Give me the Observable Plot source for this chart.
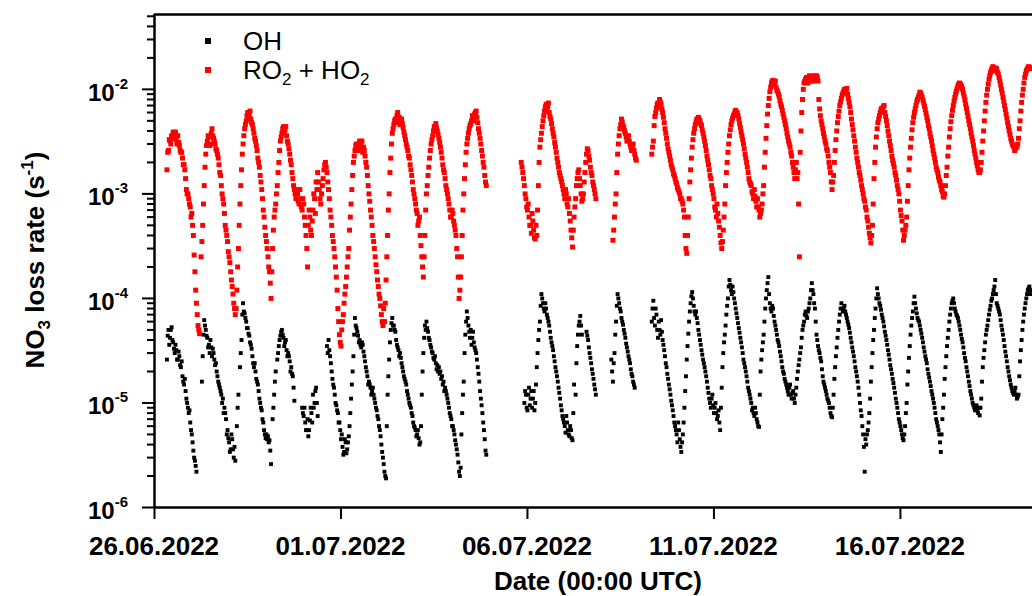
<!DOCTYPE html>
<html><head><meta charset="utf-8">
<script src="https://cdn.jsdelivr.net/npm/d3@7"></script>
<script src="https://cdn.jsdelivr.net/npm/@observablehq/plot@0.6"></script>
<style>
html,body{margin:0;padding:0;background:#fff;}
#chart{width:1032px;height:596px;overflow:hidden;}
</style></head><body><div id="chart"></div>
<script>
// ---------- data ----------
const startTime = "2022-06-26T00:00:00Z";   // first row = 26.06.2022, 00:00 UTC
const endTime = "2022-07-19T13:00:00Z";     // right edge of the visible window
const xTickDates = ["2022-06-26", "2022-07-01", "2022-07-06", "2022-07-11", "2022-07-16"];
const yMajorTicks = [1e-6, 1e-5, 1e-4, 1e-3, 1e-2];
const yDomain = [1e-6, 0.052];
const seriesNames = ["OH", "RO2 + HO2"];
const seriesColors = ["#000000", "#ff0000"];

// NO3 loss rate by OH (s-1): one row per day, values at hh:00 (h 0..23), null = no data
const ohRate = [
[null,null,null,null,null,null,null,null,2.6e-5,5.0e-5,4.2e-5,5.3e-5,3.8e-5,3.0e-5,3.2e-5,2.6e-5,2.8e-5,2.2e-5,1.8e-5,1.5e-5,1.3e-5,1.0e-5,8e-6,6.5e-6],
[5e-6,3.5e-6,2.8e-6,2.2e-6,null,null,null,2.8e-5,6.2e-5,5.0e-5,4.2e-5,3.6e-5,4.0e-5,2.8e-5,3.0e-5,2.3e-5,2.0e-5,1.6e-5,1.4e-5,1.2e-5,1.1e-5,9e-6,7e-6,5.5e-6],
[4.2e-6,3.6e-6,4.5e-6,3.0e-6,2.8e-6,6e-6,1.2e-5,2.2e-5,4e-5,9e-5,7.2e-5,6.0e-5,5.2e-5,4.4e-5,3.6e-5,2.8e-5,2.2e-5,2.0e-5,1.6e-5,1.3e-5,1.0e-5,8.5e-6,6.5e-6,5e-6],
[5e-6,4.8e-6,4.4e-6,2.6e-6,7e-6,1.2e-5,2e-5,2.6e-5,3.5e-5,4.4e-5,5.0e-5,4.2e-5,3.8e-5,3.2e-5,3.0e-5,2.5e-5,2.2e-5,1.8e-5,1.05e-5,null,null,null,null,9e-6],
[7.5e-6,6.5e-6,5.5e-6,4.8e-6,6.8e-6,8e-6,1.2e-5,1.0e-5,1.4e-5,7.5e-6,null,null,null,null,null,3.5e-5,4.0e-5,2.8e-5,2.0e-5,1.5e-5,1.2e-5,9.5e-6,8e-6,6.5e-6],
[4.5e-6,3.8e-6,3.4e-6,4.2e-6,3.6e-6,4.8e-6,8e-6,1.5e-5,2.8e-5,6.5e-5,5.2e-5,4.4e-5,4.0e-5,3.4e-5,3.6e-5,2.8e-5,2.2e-5,1.8e-5,1.6e-5,1.4e-5,1.3e-5,1.2e-5,1.0e-5,8.5e-6],
[7e-6,5.5e-6,4e-6,3.0e-6,2.2e-6,1.9e-6,1.2e-5,2.6e-5,5e-5,6.5e-5,5.5e-5,4.8e-5,3.6e-5,3.2e-5,3.0e-5,2.4e-5,2.0e-5,1.7e-5,1.5e-5,1.2e-5,1.0e-5,9e-6,7.5e-6,6e-6],
[5.5e-6,5.0e-6,4.6e-6,4.2e-6,1.2e-5,3.0e-5,5.5e-5,6.0e-5,4.8e-5,4.0e-5,3.4e-5,3.0e-5,2.6e-5,2.4e-5,2.3e-5,2.2e-5,2.0e-5,1.8e-5,1.6e-5,1.4e-5,1.2e-5,1.0e-5,8e-6,7e-6],
[6e-6,5e-6,4e-6,3.2e-6,2.2e-6,2.4e-6,8e-6,1.6e-5,4.5e-5,7.5e-5,5.5e-5,4.2e-5,3.6e-5,4.8e-5,3.4e-5,3.0e-5,2.2e-5,1.6e-5,1.1e-5,8e-6,5.5e-6,3.5e-6,null,null],
[null,null,null,null,null,null,null,null,null,null,null,null,null,null,null,null,null,null,null,null,null,null,1.0e-5,1.2e-5],
[8.5e-6,1.4e-5,1.1e-5,9e-6,1.3e-5,1.0e-5,2.2e-5,4e-5,6e-5,1.1e-4,9e-5,7.5e-5,8e-5,6.5e-5,5.5e-5,4.2e-5,3.5e-5,2.8e-5,2.2e-5,1.8e-5,1.4e-5,1.1e-5,8.5e-6,7e-6],
[6e-6,7.5e-6,5.5e-6,4.8e-6,5.5e-6,4.4e-6,1.5e-5,1.2e-5,3.5e-5,5.5e-5,6.8e-5,4.5e-5,null,null,4.8e-5,4.0e-5,3.0e-5,2.4e-5,1.9e-5,1.5e-5,1.2e-5,null,null,null],
[null,null,null,null,null,null,2.6e-5,1.6e-5,3e-5,6e-5,1.1e-4,9e-5,7.5e-5,6e-5,5e-5,4.2e-5,3.4e-5,2.8e-5,2.4e-5,1.9e-5,1.6e-5,1.4e-5,null,null],
[null,null,null,null,null,null,null,null,6e-5,9.5e-5,5.5e-5,7e-5,4.2e-5,5e-5,6.2e-5,4e-5,3.2e-5,2.4e-5,1.9e-5,1.5e-5,1.2e-5,9.5e-6,7.5e-6,6e-6],
[5e-6,6.5e-6,4.5e-6,3.4e-6,5e-6,9e-6,1.8e-5,3.5e-5,6e-5,9e-5,1.15e-4,8.5e-5,7e-5,6.5e-5,5e-5,4e-5,3.2e-5,2.6e-5,2.2e-5,1.8e-5,1.4e-5,1.1e-5,9e-6,1.2e-5],
[8e-6,1.0e-5,7e-6,8.5e-6,5.5e-6,1.4e-5,3e-5,4.5e-5,7e-5,1.0e-4,1.5e-4,1.2e-4,1.3e-4,1.0e-4,8e-5,6.5e-5,5.2e-5,4.2e-5,3.4e-5,2.6e-5,2.2e-5,1.8e-5,1.4e-5,1.2e-5],
[1.0e-5,9e-6,7.5e-6,8e-6,6.5e-6,5.9e-6,2e-5,3.2e-5,4.5e-5,8e-5,1.2e-4,1.6e-4,9e-5,7.5e-5,8e-5,6e-5,5e-5,4e-5,3.5e-5,2.8e-5,2.2e-5,1.9e-5,1.6e-5,1.4e-5],
[1.2e-5,1.5e-5,1.1e-5,1.3e-5,1.0e-5,1.4e-5,2e-5,2.6e-5,3.4e-5,5e-5,6e-5,7.5e-5,6.5e-5,8e-5,1.0e-4,1.4e-4,1.1e-4,8e-5,4.5e-5,3.5e-5,3.0e-5,2.5e-5,1.8e-5,1.5e-5],
[1.3e-5,1.1e-5,1.0e-5,8e-6,7.3e-6,1.2e-5,2.2e-5,3.4e-5,5e-5,7e-5,9e-5,7.5e-5,8.5e-5,7e-5,6e-5,5.2e-5,4.2e-5,3.4e-5,2.8e-5,2.2e-5,1.8e-5,1.4e-5,1.0e-5,7.5e-6],
[5e-6,2.2e-6,4e-6,5.5e-6,8e-6,1.6e-5,3e-5,5e-5,8e-5,1.25e-4,1.0e-4,8.5e-5,7e-5,6e-5,4.8e-5,4e-5,3.2e-5,2.6e-5,2.1e-5,1.7e-5,1.4e-5,1.1e-5,9e-6,7e-6],
[6e-6,5e-6,4.4e-6,6e-6,1.0e-5,2e-5,3.5e-5,5.5e-5,7.5e-5,1.04e-4,8e-5,6.5e-5,6e-5,5e-5,4.2e-5,3.4e-5,2.8e-5,2.4e-5,1.9e-5,1.6e-5,1.3e-5,1.1e-5,9e-6,7e-6],
[6e-6,5e-6,3.4e-6,7e-6,1.2e-5,2.2e-5,3.5e-5,5e-5,7e-5,9e-5,1.0e-4,8e-5,7e-5,6.5e-5,5.5e-5,4.5e-5,3.8e-5,3e-5,2.5e-5,2e-5,1.6e-5,1.3e-5,1.1e-5,9.5e-6],
[8.5e-6,9.5e-6,8e-6,7.6e-6,1.1e-5,2.2e-5,3.2e-5,4.5e-5,5.5e-5,7e-5,8.5e-5,1.0e-4,1.2e-4,1.5e-4,9e-5,8e-5,7e-5,5.5e-5,4.5e-5,3.5e-5,2.8e-5,2.2e-5,1.8e-5,1.5e-5],
[1.3e-5,1.2e-5,1.4e-5,1.1e-5,1.2e-5,2.5e-5,4e-5,6e-5,8e-5,1.0e-4,1.2e-4,1.3e-4,1.1e-4]
];
// NO3 loss rate by OH (s-1): values at hh:30
const ohRateHalf = [
[null,null,null,null,null,null,null,null,4.4e-5,3.6e-5,5.0e-5,4.0e-5,3.3e-5,3.6e-5,2.6e-5,3.1e-5,2.3e-5,2.5e-5,1.6e-5,1.7e-5,1.1e-5,9e-6,8.5e-6,5.5e-6],
[4.2e-6,3e-6,2.5e-6,null,null,null,1.6e-5,4.5e-5,5.5e-5,4.4e-5,3.4e-5,3.0e-5,3.4e-5,3.3e-5,2.6e-5,2.4e-5,1.8e-5,1.5e-5,1.3e-5,1.0e-5,8e-6,8e-6,5e-6,4.6e-6],
[3.4e-6,5e-6,3.6e-6,3.8e-6,null,9e-6,null,3e-5,7e-5,7.5e-5,6.5e-5,5.2e-5,4.6e-5,3.8e-5,3.3e-5,2.4e-5,2.4e-5,1.7e-5,1.5e-5,1.1e-5,9e-6,7e-6,5.5e-6,4.6e-6],
[4.5e-6,4.2e-6,3.5e-6,null,9e-6,1.6e-5,null,3e-5,4e-5,4.8e-5,4.5e-5,3.5e-5,4.0e-5,2.8e-5,2.8e-5,2.0e-5,1.9e-5,1.4e-5,null,null,null,null,null,8e-6],
[9e-6,5.5e-6,7e-6,5.5e-6,9e-6,6.5e-6,9e-6,1.3e-5,1.0e-5,null,null,null,null,null,null,3.0e-5,3.2e-5,2.4e-5,1.7e-5,1.4e-5,1.0e-5,8.5e-6,6.5e-6,5.5e-6],
[5e-6,3.2e-6,4.5e-6,3.3e-6,4.2e-6,6e-6,1.1e-5,2.0e-5,4.5e-5,5.5e-5,4.8e-5,3.8e-5,3.6e-5,3.8e-5,3.1e-5,2.5e-5,2.0e-5,1.5e-5,1.5e-5,1.2e-5,1.4e-5,1.1e-5,9e-6,7.5e-6],
[6e-6,4.8e-6,3.4e-6,2.6e-6,2.0e-6,6e-6,1.8e-5,3.8e-5,5.8e-5,5.5e-5,5e-5,4.0e-5,3.4e-5,2.8e-5,2.7e-5,2.2e-5,1.8e-5,1.6e-5,1.3e-5,1.1e-5,9.5e-6,8e-6,6.5e-6,5.8e-6],
[4.8e-6,5.5e-6,4.0e-6,6e-6,2e-5,4.2e-5,5e-5,5.2e-5,4.2e-5,3.6e-5,3.1e-5,2.7e-5,2.8e-5,2.1e-5,2.0e-5,1.9e-5,1.7e-5,1.5e-5,1.3e-5,1.3e-5,1.1e-5,9e-6,7.5e-6,6e-6],
[5.5e-6,4.4e-6,3.6e-6,2.7e-6,2.0e-6,5e-6,1.2e-5,3e-5,6e-5,6.5e-5,4.8e-5,5e-5,4.2e-5,3.8e-5,3.2e-5,2.6e-5,1.9e-5,1.3e-5,9.5e-6,6.5e-6,4.5e-6,3.2e-6,null,null],
[null,null,null,null,null,null,null,null,null,null,null,null,null,null,null,null,null,null,null,null,null,null,1.3e-5,9e-6],
[1.2e-5,9.5e-6,1.3e-5,1.1e-5,8.5e-6,1.5e-5,3e-5,5e-5,8.5e-5,1.0e-4,8e-5,9e-5,7e-5,6e-5,4.8e-5,3.8e-5,3.2e-5,2.5e-5,2.0e-5,1.6e-5,1.25e-5,9.5e-6,7.5e-6,6.5e-6],
[5.2e-6,6.5e-6,5e-6,6e-6,4.6e-6,8e-6,null,2.4e-5,4.5e-5,6e-5,5.5e-5,null,null,null,4.4e-5,3.4e-5,2.7e-5,2.1e-5,1.7e-5,1.35e-5,null,null,null,null],
[null,null,null,null,null,null,2.0e-5,2.4e-5,4.5e-5,8.5e-5,1.0e-4,8e-5,6.5e-5,5.6e-5,4.6e-5,3.7e-5,3.1e-5,2.6e-5,2.1e-5,1.8e-5,1.5e-5,null,null,null],
[null,null,null,null,null,null,null,null,8e-5,6.5e-5,8e-5,5e-5,6e-5,4.5e-5,4.8e-5,3.6e-5,2.8e-5,2.2e-5,1.7e-5,1.35e-5,1.05e-5,8.5e-6,6.5e-6,5.5e-6],
[4.2e-6,5.5e-6,3.8e-6,4.2e-6,6.5e-6,1.3e-5,2.6e-5,4.6e-5,7.5e-5,1.05e-4,1.0e-4,7.5e-5,7.5e-5,5.8e-5,4.5e-5,3.6e-5,2.9e-5,2.4e-5,2.0e-5,1.6e-5,1.25e-5,1.0e-5,1.1e-5,9.5e-6],
[9e-6,8e-6,7.5e-6,6.5e-6,9e-6,2.2e-5,3.8e-5,5.5e-5,8.5e-5,1.3e-4,1.35e-4,1.1e-4,1.15e-4,9e-5,7.2e-5,5.8e-5,4.7e-5,3.8e-5,3.0e-5,2.4e-5,2.0e-5,1.6e-5,1.3e-5,1.1e-5],
[8.5e-6,8e-6,9e-6,7e-6,6e-6,1.2e-5,2.6e-5,3.8e-5,6e-5,1.0e-4,1.4e-4,1.1e-4,8e-5,8.5e-5,6.8e-5,5.5e-5,4.5e-5,3.8e-5,3.1e-5,2.5e-5,2.0e-5,1.7e-5,1.5e-5,1.3e-5],
[1.4e-5,1.2e-5,1.25e-5,1.1e-5,1.2e-5,1.7e-5,2.3e-5,3.0e-5,4.2e-5,5.5e-5,7e-5,6.8e-5,7.5e-5,9e-5,1.2e-4,1.2e-4,9e-5,6e-5,4e-5,3.2e-5,2.7e-5,2.1e-5,1.6e-5,1.4e-5],
[1.2e-5,1.05e-5,9e-6,7.5e-6,9e-6,1.7e-5,2.8e-5,4.2e-5,6e-5,8e-5,8e-5,8e-5,7.5e-5,6.5e-5,5.6e-5,4.7e-5,3.8e-5,3.1e-5,2.5e-5,2.0e-5,1.6e-5,1.2e-5,8.5e-6,6e-6],
[3.8e-6,4.5e-6,5e-6,6.5e-6,1.1e-5,2.2e-5,4e-5,6.5e-5,1.0e-4,1.1e-4,9e-5,7.8e-5,6.5e-5,5.4e-5,4.4e-5,3.6e-5,2.9e-5,2.3e-5,1.9e-5,1.55e-5,1.25e-5,1.0e-5,8e-6,6.5e-6],
[5.5e-6,4.6e-6,5e-6,8e-6,1.5e-5,2.7e-5,4.5e-5,6.5e-5,9e-5,9e-5,7.2e-5,6.2e-5,5.5e-5,4.6e-5,3.8e-5,3.1e-5,2.6e-5,2.1e-5,1.75e-5,1.45e-5,1.2e-5,1.0e-5,8e-6,6.5e-6],
[5.5e-6,4.2e-6,5e-6,9e-6,1.7e-5,2.8e-5,4.2e-5,6e-5,8e-5,9.5e-5,9e-5,7.5e-5,6.8e-5,6e-5,5e-5,4.1e-5,3.4e-5,2.7e-5,2.2e-5,1.8e-5,1.45e-5,1.2e-5,1.0e-5,9e-6],
[9e-6,8.5e-6,9e-6,9e-6,1.6e-5,2.7e-5,3.8e-5,5e-5,6.2e-5,7.8e-5,9.5e-5,1.1e-4,1.3e-4,1.1e-4,8.5e-5,7.5e-5,6.2e-5,5e-5,4e-5,3.1e-5,2.5e-5,2.0e-5,1.65e-5,1.4e-5],
[1.25e-5,1.3e-5,1.2e-5,1.15e-5,1.8e-5,3.2e-5,5e-5,7e-5,9e-5,1.1e-4,1.25e-4,1.2e-4]
];

// NO3 loss rate by RO2 + HO2 (s-1): one row per day, values at hh:00, null = no data
const ro2ho2Rate = [
[null,null,null,null,null,null,null,null,1.7e-3,2.6e-3,3.2e-3,3.6e-3,3.9e-3,3.7e-3,3.3e-3,3.6e-3,2.9e-3,2.5e-3,2.2e-3,1.9e-3,1.4e-3,1.0e-3,9e-4,7.5e-4],
[6.5e-4,4e-4,1.8e-4,9e-5,5.5e-5,4.6e-5,2.5e-4,5e-4,1.2e-3,2.4e-3,3.2e-3,3.5e-3,3.0e-3,4.2e-3,3.4e-3,3.0e-3,2.6e-3,2.2e-3,1.6e-3,1.2e-3,9e-4,6.5e-4,4.5e-4,3.5e-4],
[2.5e-4,1.8e-4,1.3e-4,9e-5,7e-5,1.2e-4,3e-4,8e-4,1.7e-3,3e-3,4.2e-3,5e-3,6e-3,5.6e-3,5.2e-3,4.6e-3,3.8e-3,3.2e-3,2.6e-3,2e-3,1.5e-3,1.1e-3,7e-4,4.8e-4],
[3.5e-4,2.5e-4,1.8e-4,1.0e-4,3e-4,6e-4,8e-4,1.2e-3,2e-3,3.2e-3,3.8e-3,4.4e-3,4.1e-3,3.6e-3,3.0e-3,2.4e-3,1.9e-3,1.4e-3,1.1e-3,9e-4,1.0e-3,8e-4,9e-4,7e-4],
[8e-4,5e-4,3e-4,5e-4,6e-4,4e-4,7e-4,9e-4,1.3e-3,1.6e-3,1.1e-3,8e-4,1.2e-3,1.7e-3,2.0e-3,1.6e-3,1.1e-3,7e-4,5e-4,3.5e-4,2.5e-4,1.6e-4,8e-5,4.5e-5],
[3.5e-5,6e-5,9e-5,1.3e-4,2e-4,3e-4,6e-4,1.1e-3,2e-3,2.6e-3,3.0e-3,2.6e-3,3.2e-3,2.9e-3,2.5e-3,2.6e-3,2.0e-3,1.5e-3,1.0e-3,7e-4,5e-4,3.5e-4,2.5e-4,1.8e-4],
[1.3e-4,1e-4,7e-5,5.5e-5,6e-5,1.5e-4,4e-4,1.0e-3,2.2e-3,3.8e-3,4.6e-3,5.2e-3,5.6e-3,5e-3,4.6e-3,5.2e-3,4.3e-3,3.6e-3,3.0e-3,2.6e-3,2.2e-3,1.7e-3,1.3e-3,1.0e-3],
[8e-4,6.5e-4,5.5e-4,4e-4,2.5e-4,1.6e-4,4e-4,1.0e-3,1.5e-3,2.2e-3,3.0e-3,3.6e-3,4.4e-3,4.7e-3,4e-3,3.4e-3,2.8e-3,2.2e-3,1.7e-3,1.4e-3,1.1e-3,9e-4,7e-4,6e-4],
[6.5e-4,5e-4,4e-4,2.5e-4,1.0e-4,1.6e-4,4e-4,1.0e-3,1.9e-3,3.0e-3,3.8e-3,4.5e-3,5.0e-3,5.4e-3,5.8e-3,6.2e-3,4.8e-3,3.8e-3,3.0e-3,2.3e-3,1.8e-3,1.3e-3,null,null],
[null,null,null,null,null,null,null,null,null,null,null,null,null,null,null,null,null,null,null,null,2.0e-3,1.6e-3,1.2e-3,9e-4],
[7e-4,6e-4,5e-4,6.5e-4,4.5e-4,3.7e-4,4e-4,1.2e-3,2.8e-3,3.8e-3,5e-3,6.2e-3,7.2e-3,6.8e-3,6.0e-3,5.2e-3,4.2e-3,3.5e-3,2.8e-3,2.2e-3,1.8e-3,1.5e-3,1.3e-3,1.1e-3],
[9e-4,1.0e-3,7.5e-4,6.5e-4,4.5e-4,3.1e-4,6e-4,9e-4,1.4e-3,1.7e-3,1.2e-3,8.5e-4,1.0e-3,1.6e-3,2.4e-3,2.6e-3,2.1e-3,1.6e-3,1.3e-3,1.1e-3,9e-4,null,null,null],
[null,null,null,null,null,null,null,3.6e-4,6e-4,1.0e-3,2.4e-3,3.6e-3,4.6e-3,4.9e-3,4.3e-3,3.8e-3,3.2e-3,3.6e-3,3.0e-3,2.6e-3,3.0e-3,2.4e-3,2.1e-3,null],
[null,null,null,null,null,null,null,null,2.4e-3,3.2e-3,5.5e-3,6.6e-3,7.4e-3,8.0e-3,7.2e-3,6.0e-3,4.8e-3,3.8e-3,3.0e-3,2.5e-3,2.1e-3,1.8e-3,1.55e-3,1.4e-3],
[1.25e-3,1.1e-3,1.0e-3,9e-4,8e-4,6e-4,3e-4,4e-4,9e-4,1.7e-3,2.8e-3,3.8e-3,4.6e-3,5.2e-3,5.4e-3,5.0e-3,4.5e-3,3.8e-3,3.2e-3,2.6e-3,2.1e-3,1.7e-3,1.4e-3,1.1e-3],
[9e-4,7e-4,8e-4,5.5e-4,4e-4,3e-4,4.5e-4,8e-4,1.6e-3,2.5e-3,3.6e-3,4.6e-3,5.3e-3,5.8e-3,6.3e-3,6.0e-3,5.2e-3,4.3e-3,3.6e-3,3.0e-3,2.4e-3,2.0e-3,1.6e-3,1.3e-3],
[1.2e-3,1.0e-3,1.1e-3,8.5e-4,9e-4,7e-4,6.5e-4,8e-4,1.2e-3,2.5e-3,4.5e-3,7e-3,9.5e-3,1.15e-2,1.22e-2,1.1e-2,1.05e-2,9.5e-3,8.5e-3,7.2e-3,6.3e-3,5.4e-3,4.6e-3,3.8e-3],
[3.2e-3,2.8e-3,2.3e-3,1.8e-3,1.4e-3,2.0e-3,1.6e-3,2.5e-4,4e-3,8e-3,1.15e-2,1.25e-2,1.2e-2,1.3e-2,1.25e-2,1.3e-2,1.2e-2,1.3e-2,1.35e-2,1.2e-2,6.5e-3,5.0e-3,4.2e-3,3.5e-3],
[3.0e-3,2.6e-3,2.0e-3,1.6e-3,1.1e-3,1.5e-3,2.6e-3,4.0e-3,5.5e-3,7e-3,8.2e-3,9.2e-3,1.0e-2,9.8e-3,9.0e-3,7.5e-3,6.0e-3,4.6e-3,3.6e-3,2.8e-3,2.2e-3,1.8e-3,1.5e-3,1.2e-3],
[1.0e-3,8.5e-4,7e-4,5.5e-4,4.2e-4,3.4e-4,5e-4,1.4e-3,2.8e-3,4.2e-3,5.2e-3,6.0e-3,6.6e-3,6.8e-3,6.0e-3,5.0e-3,4.0e-3,3.2e-3,2.6e-3,2.1e-3,1.8e-3,1.5e-3,1.2e-3,1.0e-3],
[7e-4,5.5e-4,3.6e-4,4.5e-4,6e-4,1.2e-3,2.2e-3,3.4e-3,4.8e-3,6.0e-3,7.0e-3,8.0e-3,8.8e-3,9.2e-3,8.4e-3,7.4e-3,6.4e-3,5.4e-3,4.5e-3,3.8e-3,3.2e-3,2.6e-3,2.2e-3,1.8e-3],
[1.6e-3,1.35e-3,1.2e-3,1.05e-3,9.3e-4,1.2e-3,1.8e-3,2.8e-3,4.2e-3,5.6e-3,7.0e-3,8.4e-3,9.6e-3,1.08e-2,1.15e-2,1.1e-2,1.0e-2,8.6e-3,7.2e-3,6.0e-3,5.0e-3,4.2e-3,3.5e-3,2.9e-3],
[2.4e-3,2.0e-3,1.7e-3,1.6e-3,2.0e-3,3.2e-3,5.0e-3,7.5e-3,1.0e-2,1.25e-2,1.45e-2,1.58e-2,1.6e-2,1.5e-2,1.55e-2,1.4e-2,1.2e-2,1.0e-2,8.4e-3,7.0e-3,5.8e-3,4.8e-3,4.0e-3,3.4e-3],
[3.0e-3,2.8e-3,2.7e-3,2.8e-3,3.4e-3,5e-3,7.5e-3,1.0e-2,1.3e-2,1.5e-2,1.6e-2,1.62e-2,1.6e-2]
];
// NO3 loss rate by RO2 + HO2 (s-1): values at hh:30
const ro2ho2RateHalf = [
[null,null,null,null,null,null,null,null,2.5e-3,3.3e-3,3.0e-3,3.4e-3,3.4e-3,3.9e-3,3.0e-3,3.1e-3,2.6e-3,2.5e-3,1.9e-3,1.7e-3,1.1e-3,1.0e-3,8e-4,6e-4],
[5e-4,2.6e-4,1.2e-4,7e-5,5e-5,null,3.5e-4,8e-4,1.8e-3,2.9e-3,3.6e-3,2.9e-3,3.8e-3,3.6e-3,3.2e-3,2.7e-3,2.4e-3,1.9e-3,1.5e-3,1.0e-3,8e-4,5e-4,4e-4,2.8e-4],
[2.2e-4,1.5e-4,1.1e-4,8e-5,8e-5,2e-4,5e-4,1.2e-3,2.4e-3,3.6e-3,4.6e-3,5.6e-3,5.2e-3,6.2e-3,4.8e-3,4.2e-3,3.4e-3,2.9e-3,2.2e-3,1.8e-3,1.3e-3,9e-4,6e-4,4e-4],
[3e-4,2e-4,1.4e-4,1.8e-4,4.5e-4,7e-4,1.0e-3,1.6e-3,2.6e-3,3.5e-3,4.2e-3,3.9e-3,4.4e-3,3.2e-3,2.7e-3,2.1e-3,1.6e-3,1.2e-3,1.0e-3,1.1e-3,8.5e-4,1.1e-3,7.5e-4,9e-4],
[6e-4,4e-4,2e-4,7e-4,4.5e-4,5.5e-4,1.0e-3,6.5e-4,1.1e-3,1.3e-3,9e-4,1.0e-3,1.4e-3,1.9e-3,1.8e-3,1.3e-3,9e-4,6e-4,4e-4,3e-4,2e-4,1.2e-4,6e-5,3.8e-5],
[5e-5,7e-5,1.1e-4,1.6e-4,2.5e-4,4.5e-4,8e-4,1.5e-3,2.3e-3,2.9e-3,2.7e-3,3.0e-3,2.7e-3,3.2e-3,2.8e-3,2.3e-3,1.8e-3,1.2e-3,8.5e-4,6e-4,4e-4,3e-4,2.1e-4,1.5e-4],
[1.1e-4,8.5e-5,6e-5,8e-5,9e-5,2.5e-4,7e-4,1.6e-3,3e-3,4.2e-3,5.0e-3,4.8e-3,6.0e-3,5.4e-3,5.0e-3,4.7e-3,3.9e-3,3.3e-3,2.8e-3,2.3e-3,1.9e-3,1.5e-3,1.1e-3,9e-4],
[7e-4,5e-4,6e-4,3.2e-4,2e-4,2.5e-4,7e-4,1.2e-3,1.8e-3,2.6e-3,3.3e-3,4.0e-3,4.0e-3,4.3e-3,3.7e-3,3.1e-3,2.5e-3,1.9e-3,1.6e-3,1.2e-3,1.0e-3,8e-4,6e-4,7e-4],
[5.5e-4,4.5e-4,3e-4,1.6e-4,1.2e-4,2.5e-4,7e-4,1.4e-3,2.5e-3,3.4e-3,4.2e-3,4.7e-3,5.6e-3,5.0e-3,6.0e-3,5.4e-3,4.2e-3,3.4e-3,2.6e-3,2.0e-3,1.5e-3,1.2e-3,null,null],
[null,null,null,null,null,null,null,null,null,null,null,null,null,null,null,null,null,null,null,null,1.8e-3,1.4e-3,1.0e-3,7.5e-4],
[8e-4,5e-4,4.2e-4,5.5e-4,3.8e-4,5e-4,7e-4,2e-3,3.3e-3,4.4e-3,5.6e-3,6.8e-3,6.4e-3,7.4e-3,5.5e-3,4.7e-3,3.8e-3,3.1e-3,2.5e-3,2.0e-3,1.6e-3,1.4e-3,1.2e-3,1.0e-3],
[1.1e-3,8e-4,9e-4,5.5e-4,3.8e-4,4.5e-4,7.5e-4,1.2e-3,1.6e-3,1.4e-3,1.0e-3,9e-4,1.3e-3,2.0e-3,2.7e-3,2.3e-3,1.8e-3,1.5e-3,1.2e-3,1.0e-3,null,null,null,null],
[null,null,null,null,null,null,null,4.5e-4,8e-4,1.6e-3,3.0e-3,4.2e-3,5.2e-3,4.5e-3,4.0e-3,3.5e-3,3.4e-3,3.2e-3,2.8e-3,2.8e-3,2.6e-3,2.2e-3,null,null],
[null,null,null,null,null,null,null,null,2.8e-3,4.5e-3,6.0e-3,7.2e-3,6.8e-3,7.6e-3,6.5e-3,5.4e-3,4.2e-3,3.4e-3,2.7e-3,2.3e-3,1.9e-3,1.7e-3,1.5e-3,1.3e-3],
[1.15e-3,1.05e-3,9e-4,8.5e-4,7e-4,4e-4,2.7e-4,6e-4,1.3e-3,2.2e-3,3.3e-3,4.2e-3,4.9e-3,4.8e-3,5.2e-3,4.7e-3,4.1e-3,3.5e-3,2.9e-3,2.3e-3,1.9e-3,1.5e-3,1.2e-3,1.0e-3],
[7.5e-4,6e-4,6.5e-4,4.8e-4,3.4e-4,3.5e-4,6e-4,1.2e-3,2.0e-3,3.0e-3,4.1e-3,5.0e-3,5.6e-3,6.1e-3,5.7e-3,5.6e-3,4.7e-3,3.9e-3,3.3e-3,2.7e-3,2.2e-3,1.8e-3,1.4e-3,1.25e-3],
[1.05e-3,9e-4,9.5e-4,7.5e-4,7.5e-4,6e-4,7e-4,1.0e-3,1.8e-3,3.4e-3,5.8e-3,8.2e-3,1.05e-2,1.2e-2,1.15e-2,1.2e-2,9.8e-3,9e-3,7.8e-3,6.8e-3,5.8e-3,5.0e-3,4.2e-3,3.5e-3],
[3.0e-3,2.5e-3,2.0e-3,1.6e-3,1.7e-3,1.4e-3,8e-4,2.5e-3,6e-3,1.0e-2,1.2e-2,1.3e-2,1.15e-2,1.35e-2,1.2e-2,1.25e-2,1.35e-2,1.25e-2,1.3e-2,8e-3,5.6e-3,4.6e-3,3.8e-3,3.2e-3],
[2.7e-3,2.3e-3,1.8e-3,1.3e-3,1.3e-3,2.0e-3,3.3e-3,4.8e-3,6.2e-3,7.6e-3,8.8e-3,9.6e-3,9.4e-3,1.02e-2,8.2e-3,6.8e-3,5.2e-3,4.1e-3,3.2e-3,2.5e-3,2.0e-3,1.6e-3,1.35e-3,1.1e-3],
[9e-4,7.5e-4,6e-4,4.8e-4,3.8e-4,4e-4,8e-4,2.0e-3,3.5e-3,4.8e-3,5.6e-3,6.4e-3,6.2e-3,7.0e-3,5.5e-3,4.5e-3,3.6e-3,2.9e-3,2.3e-3,1.95e-3,1.6e-3,1.35e-3,1.1e-3,8.5e-4],
[6.2e-4,4.5e-4,4e-4,5e-4,8.5e-4,1.7e-3,2.8e-3,4.1e-3,5.4e-3,6.5e-3,7.6e-3,8.4e-3,9.4e-3,8.8e-3,7.9e-3,6.9e-3,5.9e-3,5.0e-3,4.2e-3,3.5e-3,2.9e-3,2.4e-3,2.0e-3,1.7e-3],
[1.45e-3,1.3e-3,1.1e-3,9.5e-4,1.0e-3,1.5e-3,2.3e-3,3.5e-3,4.9e-3,6.3e-3,7.7e-3,9.0e-3,1.02e-2,1.12e-2,1.12e-2,1.05e-2,9.2e-3,7.9e-3,6.6e-3,5.5e-3,4.6e-3,3.8e-3,3.2e-3,2.6e-3],
[2.2e-3,1.85e-3,1.6e-3,1.7e-3,2.5e-3,4.0e-3,6.2e-3,8.8e-3,1.12e-2,1.35e-2,1.52e-2,1.65e-2,1.55e-2,1.6e-2,1.45e-2,1.3e-2,1.1e-2,9.2e-3,7.7e-3,6.4e-3,5.3e-3,4.4e-3,3.7e-3,3.2e-3],
[2.9e-3,2.6e-3,2.9e-3,3.0e-3,4.2e-3,6.2e-3,8.8e-3,1.15e-2,1.4e-2,1.55e-2,1.65e-2,1.58e-2]
];

// ---------- build tables ----------
const t0 = new Date(startTime).getTime();
function toRows(byDay, series, minuteOffset) {
  const rows = [];
  byDay.forEach((day, d) => day.forEach((v, h) => {
    if (v != null) rows.push({time: new Date(t0 + ((d * 24 + h) * 60 + minuteOffset) * 60e3), value: v, series});
  }));
  return rows;
}
const ohRows = toRows(ohRate, seriesNames[0], 0).concat(toRows(ohRateHalf, seriesNames[0], 30));
const roRows = toRows(ro2ho2Rate, seriesNames[1], 0).concat(toRows(ro2ho2RateHalf, seriesNames[1], 30));
const xDomain = [new Date(startTime), new Date(endTime)];
const xTicks = xTickDates.map(d => new Date(d + "T00:00:00Z"));
const yMinorTicks = [];
for (let e = -6; e <= -2; e++) for (let m = 2; m <= 9; m++) {
  const v = m * Math.pow(10, e);
  if (v <= yDomain[1]) yMinorTicks.push(v);
}

const FONT = "'Liberation Sans', Arial, Helvetica, sans-serif";

const plot = Plot.plot({
  width: 1032, height: 596,
  marginLeft: 154, marginRight: 0, marginTop: 14, marginBottom: 89,
  style: {fontFamily: FONT, background: "#fff", color: "#000"},
  x: {type: "utc", domain: xDomain},
  y: {type: "log", domain: yDomain},
  marks: [
    Plot.dot(ohRows, {x: "time", y: "value", symbol: "square", r: 2.2, fill: seriesColors[0], stroke: null}),
    Plot.dot(roRows, {x: "time", y: "value", symbol: "square", r: 2.8, fill: seriesColors[1], stroke: null}),
    Plot.axisY(yMinorTicks, {tickSize: 7, tickFormat: () => "", label: null, strokeWidth: 2}),
    Plot.axisY(yMajorTicks, {tickSize: 12, tickFormat: () => "", label: null, strokeWidth: 2}),
    Plot.axisX(xTicks, {tickSize: 12, tickFormat: () => "", label: null, strokeWidth: 2}),
    Plot.ruleX([xDomain[0]], {strokeWidth: 2.5}),
    Plot.ruleY(yDomain, {strokeWidth: 2.5})
  ]
});

// ---------- text: tick labels, axis titles, legend ----------
const svg = d3.select(plot);
const xs = plot.scale("x"), ys = plot.scale("y");
const g = svg.append("g").attr("font-family", FONT).attr("fill", "#000");

yMajorTicks.forEach(v => {
  const y = ys.apply(v);
  const t = g.append("text").attr("x", 128).attr("y", y + 12)
    .attr("text-anchor", "end").attr("font-weight", "bold");
  t.append("tspan").attr("font-size", 24).text("10");
  t.append("tspan").attr("font-size", 15).attr("dy", -12).text(String(Math.round(Math.log10(v))));
});

const fmt = d3.utcFormat("%d.%m.%Y");
xTicks.forEach(d => {
  g.append("text").attr("x", xs.apply(d)).attr("y", 555)
    .attr("text-anchor", "middle").attr("font-weight", "bold").attr("font-size", 26)
    .text(fmt(d));
});

g.append("text").attr("x", 598).attr("y", 590).attr("text-anchor", "middle")
  .attr("font-weight", "bold").attr("font-size", 26).text("Date (00:00 UTC)");

const yl = g.append("text").attr("transform", "translate(44,260) rotate(-90)")
  .attr("text-anchor", "middle").attr("font-weight", "bold").attr("font-size", 26);
yl.append("tspan").text("NO");
yl.append("tspan").attr("font-size", 17).attr("dy", 6).text("3");
yl.append("tspan").attr("dy", -6).text(" loss rate (s");
yl.append("tspan").attr("font-size", 17).attr("dy", -11).text("-1");
yl.append("tspan").attr("dy", 11).text(")");

// legend
const legendY = [41, 70];
seriesNames.forEach((name, i) => {
  g.append("rect").attr("x", 205).attr("y", legendY[i] - 3).attr("width", 6).attr("height", 6)
    .attr("fill", seriesColors[i]);
  const t = g.append("text").attr("x", 243).attr("y", legendY[i] + 9)
    .attr("text-anchor", "start").attr("font-size", 26);
  if (name === "OH") t.text("OH");
  else {
    t.append("tspan").text("RO");
    t.append("tspan").attr("font-size", 17).attr("dy", 6).text("2");
    t.append("tspan").attr("dy", -6).text(" + HO");
    t.append("tspan").attr("font-size", 17).attr("dy", 6).text("2");
  }
});

document.getElementById("chart").appendChild(plot);
</script></body></html>
